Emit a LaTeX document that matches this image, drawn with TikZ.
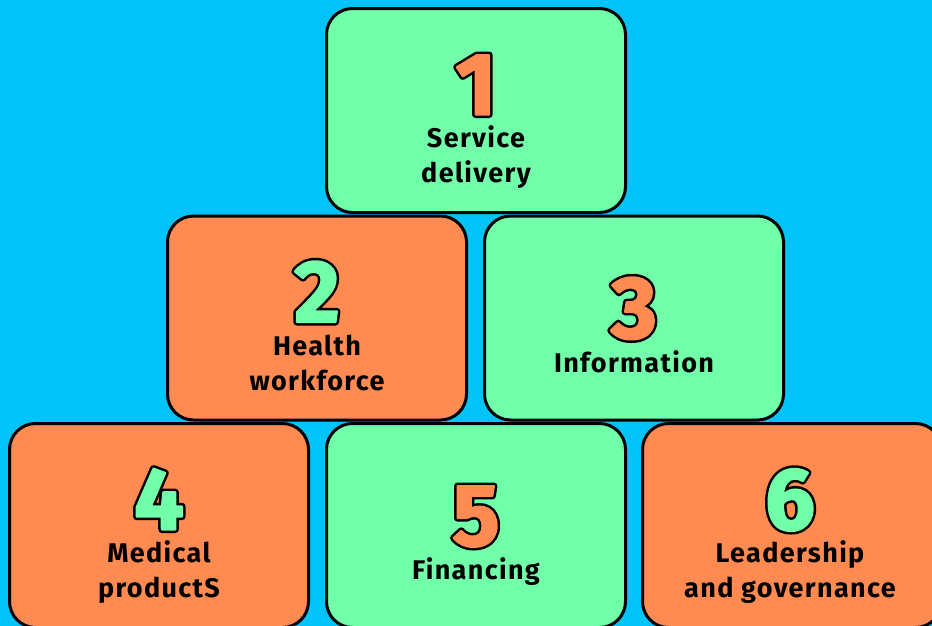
\documentclass[tikz,border=0pt]{standalone}
\usepackage{fontspec}
\setmainfont{Fira Sans}
\newfontfamily\labfont[LetterSpace=5]{Fira Sans}
\newfontfamily\numfont{Fira Sans}
\definecolor{bg}{HTML}{00C4F7}
\definecolor{grn}{HTML}{72FFA9}
\definecolor{org}{HTML}{FF8A52}
\newcommand{\outnum}[2]{\makebox[0pt][l]{\color{black}\special{pdf:literal direct 1 j 7 w 2 Tr}#2\special{pdf:literal direct 0 Tr}}{\color{#1}\special{pdf:literal direct 1 j 2 w 2 Tr}#2\special{pdf:literal direct 0 Tr}}}
\tikzset{
  box/.style={draw=black, line width=3pt, rounded corners=26pt, minimum width=299pt, minimum height=204pt, inner sep=0pt},
  gbox/.style={box, fill=grn},
  obox/.style={box, fill=org},
  num/.style={anchor=base, inner sep=0pt, font=\numfont\bfseries\fontsize{88}{88}\selectfont},
  lab/.style={anchor=base, inner sep=0pt, align=center, text=black, font=\labfont\bfseries\fontsize{27}{35}\selectfont}
}
\begin{document}
\begin{tikzpicture}[x=1pt,y=-1pt]
\useasboundingbox (0,0) rectangle (932,625);
\fill[bg] (-5,-5) rectangle (937,630);
% boxes
\node[gbox] (b1) at (476,110.5) {};
\node[obox] (b2) at (317,318) {};
\node[gbox] (b3) at (634,318) {};
\node[obox] (b4) at (159,525.5) {};
\node[gbox] (b5) at (476,525.5) {};
\node[obox] (b6) at (792,525.5) {};
% numbers
\node[num] (n1) at (476,114.5) {\outnum{org}{1}};
\node[num] (n2) at (317,322) {\outnum{grn}{2}};
\node[num] (n3) at (634,338) {\outnum{org}{3}};
\node[num] (n4) at (159,529.5) {\outnum{grn}{4}};
\node[num] (n5) at (476,545.5) {\outnum{org}{5}};
\node[num] (n6) at (790,529.5) {\outnum{grn}{6}};
% labels
\node[lab] (t1) at (476,182) {Service\\delivery};
\node[lab] (t2) at (317,390) {Health\\workforce};
\node[lab] (t3) at (634,372) {Information};
\node[lab] (t4) at (159,597) {Medical\\productS};
\node[lab] (t5) at (476,579.5) {Financing};
\node[lab] (t6) at (790,597) {Leadership\\and governance};
\end{tikzpicture}
\end{document}
